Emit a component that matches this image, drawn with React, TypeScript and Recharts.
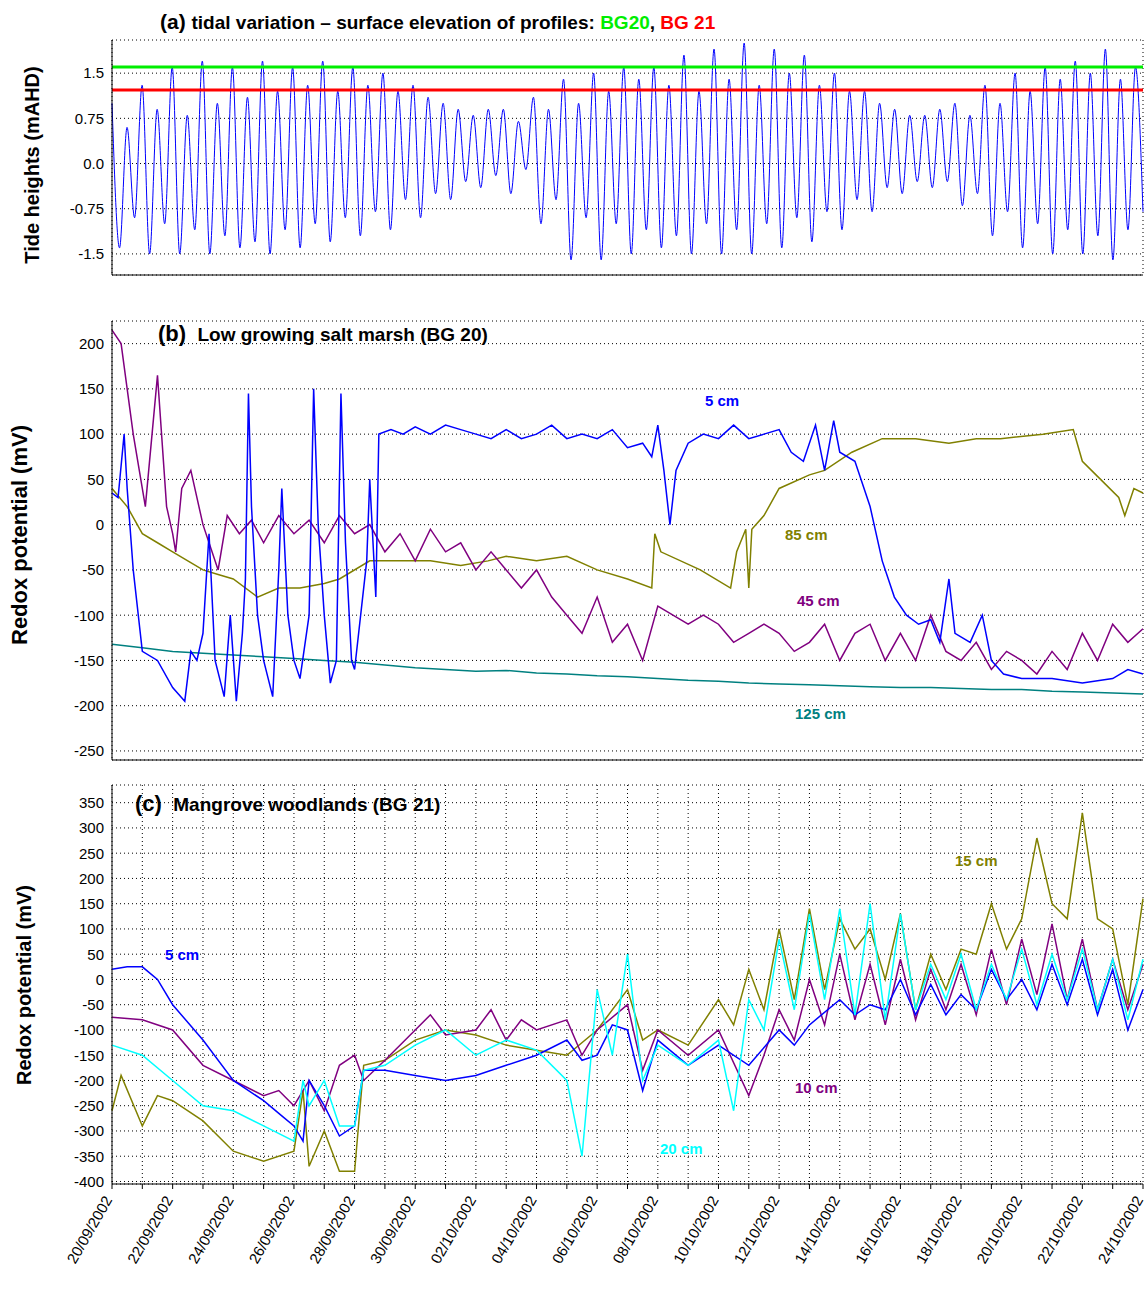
import React from "react";
import { LineChart, Line, XAxis, YAxis, CartesianGrid, ReferenceLine } from "recharts";

// ---- Panel (a): tide extremes, 4 per day (H, L, H, L), 6-hourly
const tideValues: number[] = [
  1.0,-1.4,0.6,-0.9, 1.3,-1.5,0.9,-1.0, 1.6,-1.5,0.8,-1.1, 1.7,-1.5,1.0,-1.2,
  1.6,-1.4,1.1,-1.3, 1.7,-1.5,1.2,-1.1, 1.6,-1.4,1.3,-1.0, 1.7,-1.3,1.2,-0.9,
  1.6,-1.2,1.3,-0.8, 1.5,-1.1,1.2,-0.6, 1.3,-0.9,1.1,-0.5, 1.0,-0.6,0.9,-0.3,
  0.8,-0.4,0.9,-0.2, 0.9,-0.5,0.7,-0.1, 1.1,-1.0,0.9,-0.6, 1.4,-1.6,1.0,-0.9,
  1.5,-1.6,1.2,-1.0, 1.6,-1.5,1.4,-1.1, 1.6,-1.4,1.3,-1.2, 1.8,-1.5,1.2,-1.0,
  1.9,-1.5,1.4,-1.1, 2.0,-1.5,1.3,-1.0, 1.9,-1.4,1.5,-0.9, 1.8,-1.3,1.3,-0.8,
  1.5,-1.1,1.2,-0.6, 1.2,-0.8,1.0,-0.4, 0.9,-0.5,0.8,-0.3, 0.8,-0.4,0.9,-0.3,
  1.0,-0.7,0.8,-0.5, 1.3,-1.2,1.0,-0.8, 1.5,-1.4,1.2,-1.0, 1.6,-1.5,1.4,-1.1,
  1.7,-1.5,1.5,-1.2, 1.9,-1.6,1.4,-1.1, 1.6,-0.8,
];
const BG20_LEVEL = 1.6;
const BG21_LEVEL = 1.22;
const tideTicks = [-1.5, -0.75, 0, 0.75, 1.5];
const tideTickLabels: Record<string, string> = { "-1.5": "-1.5", "-0.75": "-0.75", "0": "0.0", "0.75": "0.75", "1.5": "1.5" };

// ---- Panel (b): BG 20 redox [day, mV]
const b5cm = [[0,35],[0.2,30],[0.4,100],[0.5,40],[0.7,-50],[1,-140],[1.5,-150],[2,-180],[2.4,-195],[2.6,-140],[2.8,-150],[3,-120],[3.2,-10],[3.4,-150],[3.7,-190],[3.9,-100],[4.1,-195],[4.3,-120],[4.4,-60],[4.5,145],[4.6,20],[4.8,-100],[5,-150],[5.3,-190],[5.5,-50],[5.6,40],[5.8,-100],[6,-150],[6.2,-170],[6.5,-100],[6.65,150],[6.8,0],[7,-100],[7.2,-175],[7.4,-150],[7.55,145],[7.7,-20],[7.9,-150],[8,-160],[8.4,-40],[8.5,50],[8.7,-80],[8.8,100],[9.2,105],[9.6,100],[10,108],[10.5,100],[11,110],[11.5,105],[12,100],[12.5,95],[13,105],[13.5,95],[14,100],[14.5,110],[15,95],[15.5,100],[16,95],[16.5,105],[17,85],[17.5,90],[17.8,75],[18,110],[18.2,60],[18.4,0],[18.6,60],[19,90],[19.5,100],[20,95],[20.5,110],[21,95],[21.5,100],[22,105],[22.4,80],[22.8,70],[23.2,110],[23.5,60],[23.8,115],[24,80],[24.5,70],[25,20],[25.4,-40],[25.8,-80],[26.2,-100],[26.6,-110],[27,-105],[27.3,-130],[27.6,-60],[27.8,-120],[28.3,-130],[28.7,-100],[29,-150],[29.4,-165],[30,-170],[31,-170],[32,-175],[33,-170],[33.5,-160],[34,-165]];
const b45cm = [[0,215],[0.3,200],[0.5,150],[0.7,100],[0.9,60],[1.1,20],[1.5,165],[1.8,20],[2,-10],[2.1,-30],[2.3,40],[2.6,60],[3,0],[3.5,-50],[3.8,10],[4.2,-10],[4.6,5],[5,-20],[5.5,10],[6,-10],[6.5,5],[7,-20],[7.5,10],[8,-10],[8.5,0],[9,-30],[9.5,-10],[10,-40],[10.5,-5],[11,-30],[11.5,-20],[12,-50],[12.5,-30],[13,-50],[13.5,-70],[14,-50],[14.5,-80],[15,-100],[15.5,-120],[16,-80],[16.5,-130],[17,-110],[17.5,-150],[18,-90],[18.5,-100],[19,-110],[19.5,-100],[20,-110],[20.5,-130],[21,-120],[21.5,-110],[22,-120],[22.5,-140],[23,-130],[23.5,-110],[24,-150],[24.5,-120],[25,-110],[25.5,-150],[26,-120],[26.5,-150],[27,-100],[27.5,-140],[28,-150],[28.5,-130],[29,-160],[29.5,-140],[30,-150],[30.5,-165],[31,-140],[31.5,-160],[32,-120],[32.5,-150],[33,-110],[33.5,-130],[34,-115]];
const b85cm = [[0,40],[0.5,20],[1,-10],[1.5,-20],[2,-30],[2.5,-40],[3,-50],[3.5,-55],[4,-60],[4.8,-80],[5.5,-70],[6.2,-70],[7,-65],[7.5,-60],[8.5,-40],[9.5,-40],[10.5,-40],[11.5,-45],[12.4,-40],[13,-35],[14,-40],[15,-35],[16,-50],[17,-60],[17.8,-70],[17.9,-10],[18.1,-30],[19.4,-50],[20.4,-70],[20.6,-30],[20.9,-5],[21,-70],[21.1,-5],[21.5,10],[22,40],[23,55],[23.5,60],[24.4,80],[25.4,95],[26.5,95],[27.6,90],[28.5,95],[29.3,95],[30.7,100],[31.7,105],[32,70],[32.6,50],[33.2,30],[33.4,10],[33.7,40],[34,35]];
const b125cm = [[0,-132],[1,-136],[2,-140],[3,-142],[4,-144],[5,-146],[6,-148],[7,-150],[8,-152],[9,-155],[10,-158],[11,-160],[12,-162],[13,-161],[14,-164],[15,-165],[16,-167],[17,-168],[18,-170],[19,-172],[20,-173],[21,-175],[22,-176],[23,-177],[24,-178],[25,-179],[26,-180],[27,-180],[28,-181],[29,-182],[30,-182],[31,-184],[32,-185],[33,-186],[34,-187]];

// ---- Panel (c): BG 21 redox [day, mV]
const c5cm = [[0,20],[0.5,25],[1,25],[1.5,0],[2,-50],[3,-120],[4,-200],[5,-240],[5.6,-270],[6,-290],[6.3,-320],[6.5,-200],[7,-250],[7.5,-310],[8,-290],[8.3,-180],[9,-180],[10,-190],[11,-200],[12,-190],[13,-170],[14,-150],[15,-120],[15.5,-160],[16,-150],[16.5,-90],[17,-100],[17.5,-220],[18,-120],[19,-170],[20,-130],[21,-170],[22,-100],[22.5,-130],[23,-90],[24,-40],[24.5,-70],[25,-50],[25.5,-60],[26,0],[26.5,-70],[27,-10],[27.5,-70],[28,-30],[28.5,-60],[29,20],[29.5,-40],[30,0],[30.5,-60],[31,30],[31.5,-50],[32,40],[32.5,-70],[33,20],[33.5,-100],[34,-20]];
const c15cm = [[0,-260],[0.3,-190],[1,-290],[1.5,-230],[2,-240],[3,-280],[4,-340],[5,-360],[6,-340],[6.3,-220],[6.5,-370],[7,-300],[7.5,-380],[8,-380],[8.3,-170],[9,-160],[10,-120],[11,-100],[12,-110],[13,-130],[14,-140],[15,-150],[16,-100],[17,-20],[17.5,-120],[18,-100],[19,-130],[20,-40],[20.5,-90],[21,20],[21.5,-60],[22,100],[22.5,-40],[23,140],[23.5,-20],[24,120],[24.5,60],[25,100],[25.5,0],[26,130],[26.5,-60],[27,50],[27.5,-20],[28,60],[28.5,50],[29,150],[29.5,60],[30,120],[30.5,280],[31,150],[31.5,120],[32,330],[32.5,120],[33,100],[33.5,-50],[34,160]];
const c10cm = [[0,-75],[1,-80],[2,-100],[3,-170],[4,-200],[5,-230],[5.5,-220],[6,-250],[6.5,-200],[7,-260],[7.5,-170],[8,-150],[8.3,-200],[9,-160],[10,-100],[10.5,-70],[11,-110],[12,-100],[12.5,-60],[13,-120],[13.5,-80],[14,-100],[15,-80],[15.5,-150],[16,-100],[17,-50],[17.5,-180],[18,-100],[19,-150],[20,-100],[21,-230],[21.5,-150],[22,-60],[22.5,-120],[23,0],[23.5,-90],[24,50],[24.5,-80],[25,30],[25.5,-90],[26,40],[26.5,-80],[27,20],[27.5,-60],[28,30],[28.5,-70],[29,60],[29.5,-50],[30,80],[30.5,-30],[31,110],[31.5,-40],[32,80],[32.5,-60],[33,40],[33.5,-60],[34,30]];
const c20cm = [[0,-130],[1,-150],[2,-200],[3,-250],[4,-260],[5,-290],[6,-320],[6.3,-200],[6.5,-250],[7,-200],[7.5,-290],[8,-290],[8.3,-180],[9,-170],[10,-130],[11,-100],[12,-150],[13,-120],[14,-140],[15,-200],[15.5,-350],[16,-20],[16.5,-150],[17,50],[17.5,-200],[18,-130],[19,-170],[20,-120],[20.5,-260],[21,-40],[21.5,-100],[22,80],[22.5,-60],[23,130],[23.5,-40],[24,140],[24.5,-70],[25,150],[25.5,-80],[26,130],[26.5,-60],[27,30],[27.5,-40],[28,50],[28.5,-60],[29,30],[29.5,-40],[30,60],[30.5,-50],[31,50],[31.5,-40],[32,60],[32.5,-60],[33,40],[33.5,-80],[34,40]];

const bTicks = [-250, -200, -150, -100, -50, 0, 50, 100, 150, 200];
const cTicks = [-400, -350, -300, -250, -200, -150, -100, -50, 0, 50, 100, 150, 200, 250, 300, 350];
const dayTicks = Array.from({ length: 35 }, (_, i) => i);
const dateLabels: Record<number, string> = {
  0: "20/09/2002", 2: "22/09/2002", 4: "24/09/2002", 6: "26/09/2002", 8: "28/09/2002",
  10: "30/09/2002", 12: "02/10/2002", 14: "04/10/2002", 16: "06/10/2002", 18: "08/10/2002",
  20: "10/10/2002", 22: "12/10/2002", 24: "14/10/2002", 26: "16/10/2002", 28: "18/10/2002",
  30: "20/10/2002", 32: "22/10/2002", 34: "24/10/2002",
};

const pts = (a: number[][]) => a.map(([d, v]) => ({ d, v }));
const tidePts = tideValues.map((v, i) => ({ d: i * 0.25, v }));

const FONT = "Arial, 'Liberation Sans', sans-serif";
const tickStyle = { fontSize: 15, fill: "#000", fontFamily: FONT };

const DateTick = (props: any) => {
  const { x, y, payload } = props;
  const lbl = dateLabels[payload.value];
  if (!lbl) return null;
  const ax = x - 4, ay = y + 6;
  return (
    <text x={ax} y={ay} transform={`rotate(-60 ${ax} ${ay})`} textAnchor="end" dominantBaseline="central"
      style={{ fontSize: 15, fontFamily: FONT, fill: "#000" }}>{lbl}</text>
  );
};

const Lbl = ({ x, y, color, children, size = 15 }: any) => (
  <div style={{ position: "absolute", left: x, top: y, color, fontFamily: FONT, fontWeight: "bold", fontSize: size, whiteSpace: "nowrap", lineHeight: 1 }}>{children}</div>
);
const VLbl = ({ cx, cy, size, children }: any) => (
  <div style={{ position: "absolute", left: cx, top: cy, transform: "translate(-50%,-50%) rotate(-90deg)", fontFamily: FONT, fontWeight: "bold", fontSize: size, whiteSpace: "nowrap", lineHeight: 1 }}>{children}</div>
);

const grid = <CartesianGrid stroke="#000" strokeDasharray="1 3" strokeWidth={1} />;
const xAx = (labels: boolean) => (
  <XAxis dataKey="d" type="number" domain={[0, 34]} ticks={dayTicks} interval={0} allowDuplicatedCategory={false}
    axisLine={{ stroke: "#000" }} tickLine={{ stroke: "#000" }} tickSize={5}
    tick={labels ? <DateTick /> : false} height={labels ? 110 : 10} />
);

export default function App() {
  return (
    <div style={{ position: "absolute", left: 0, top: 0, width: 1148, height: 1296, background: "#fff" }}>
      <div style={{ position: "absolute", left: 0, top: 0 }}>
        <LineChart width={1148} height={290} margin={{ top: 40, right: 5, bottom: 5, left: 52 }}>
          {grid}
          {xAx(false)}
          <YAxis type="number" domain={[-1.85, 2.05]} ticks={tideTicks} width={60} tick={tickStyle}
            tickFormatter={(v: number) => tideTickLabels[String(v)]} axisLine={{ stroke: "#000" }} tickLine={false} />
          <Line data={tidePts} dataKey="v" stroke="#0000ff" strokeWidth={1} dot={false} type="monotone" isAnimationActive={false} />
          <ReferenceLine y={BG20_LEVEL} stroke="#00ee00" strokeWidth={3} />
          <ReferenceLine y={BG21_LEVEL} stroke="#ff0000" strokeWidth={3} />
        </LineChart>
      </div>
      <div style={{ position: "absolute", left: 0, top: 0 }}>
        <LineChart width={1148} height={772} margin={{ top: 321, right: 5, bottom: 2, left: 52 }}>
          {grid}
          {xAx(false)}
          <YAxis type="number" domain={[-260, 225]} ticks={bTicks} width={60} tick={tickStyle} axisLine={{ stroke: "#000" }} tickLine={false} />
          <Line data={pts(b125cm)} dataKey="v" stroke="#008080" strokeWidth={1.5} dot={false} isAnimationActive={false} />
          <Line data={pts(b85cm)} dataKey="v" stroke="#808000" strokeWidth={1.5} dot={false} isAnimationActive={false} />
          <Line data={pts(b45cm)} dataKey="v" stroke="#800080" strokeWidth={1.5} dot={false} isAnimationActive={false} />
          <Line data={pts(b5cm)} dataKey="v" stroke="#0000ff" strokeWidth={1.5} dot={false} isAnimationActive={false} />
        </LineChart>
      </div>
      <div style={{ position: "absolute", left: 0, top: 0 }}>
        <LineChart width={1148} height={1296} margin={{ top: 785, right: 5, bottom: 2, left: 52 }}>
          {grid}
          {xAx(true)}
          <YAxis type="number" domain={[-405, 385]} ticks={cTicks} width={60} tick={tickStyle} axisLine={{ stroke: "#000" }} tickLine={false} />
          <Line data={pts(c15cm)} dataKey="v" stroke="#808000" strokeWidth={1.5} dot={false} isAnimationActive={false} />
          <Line data={pts(c10cm)} dataKey="v" stroke="#800080" strokeWidth={1.5} dot={false} isAnimationActive={false} />
          <Line data={pts(c5cm)} dataKey="v" stroke="#0000ff" strokeWidth={1.5} dot={false} isAnimationActive={false} />
          <Line data={pts(c20cm)} dataKey="v" stroke="#00ffff" strokeWidth={1.5} dot={false} isAnimationActive={false} />
        </LineChart>
      </div>

      <div style={{ position: "absolute", left: 160, top: 10, fontFamily: FONT, fontWeight: "bold", fontSize: 21, whiteSpace: "nowrap", background: "#fff", lineHeight: 1.1 }}>
        (a) <span style={{ fontSize: 19 }}>tidal variation – surface elevation of profiles: <span style={{ color: "#00ee00" }}>BG20</span>, <span style={{ color: "#ff0000" }}>BG 21</span></span>
      </div>
      <Lbl x={158} y={323} color="#000" size={22}>(b) <span style={{ fontSize: 19 }}>&nbsp;Low growing salt marsh (BG 20)</span></Lbl>
      <Lbl x={135} y={793} color="#000" size={22}>(c) <span style={{ fontSize: 19 }}>&nbsp;Mangrove woodlands (BG 21)</span></Lbl>

      <Lbl x={705} y={393} color="#0000ff">5 cm</Lbl>
      <Lbl x={785} y={527} color="#808000">85 cm</Lbl>
      <Lbl x={797} y={593} color="#800080">45 cm</Lbl>
      <Lbl x={795} y={706} color="#008080">125 cm</Lbl>
      <Lbl x={165} y={947} color="#0000ff">5 cm</Lbl>
      <Lbl x={955} y={853} color="#808000">15 cm</Lbl>
      <Lbl x={795} y={1080} color="#800080">10 cm</Lbl>
      <Lbl x={660} y={1141} color="#00ffff">20 cm</Lbl>

      <VLbl cx={32} cy={165} size={20}>Tide heights (mAHD)</VLbl>
      <VLbl cx={20} cy={535} size={22}>Redox potential (mV)</VLbl>
      <VLbl cx={24} cy={985} size={20}>Redox potential (mV)</VLbl>
    </div>
  );
}
